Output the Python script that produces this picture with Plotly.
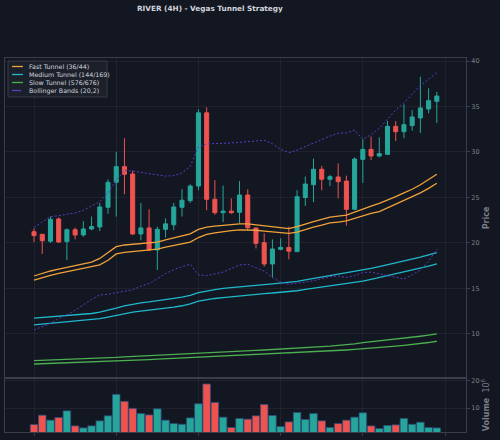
import plotly.graph_objects as go

# ---------------- data ----------------
opens = [21.24, 20.95, 20.2, 22.64, 20.15, 21.46, 20.88, 21.54, 21.76, 23.92,
         26.67, 28.39, 27.58, 20.99, 21.65, 19.23, 21.5, 22.0, 23.92, 24.65,
         26.26, 34.3, 24.8, 23.33, 23.5, 23.37, 25.27, 21.65, 20.04, 17.69,
         19.3, 19.5, 19.05, 25.0, 26.4, 28.1, 27.0, 27.25, 26.8, 23.7,
         29.19, 30.29, 29.56, 29.74, 32.82, 32.23, 32.9, 33.74, 34.73, 35.57]
highs = [21.6, 21.0, 22.9, 22.8, 21.6, 21.7, 22.4, 22.9, 24.4, 27.0,
         30.0, 31.5, 27.95, 24.4, 23.7, 21.8, 22.7, 24.4, 25.9, 26.45,
         34.7, 34.9, 26.9, 26.3, 24.9, 26.8, 25.9, 21.7, 21.06, 20.4,
         20.5, 21.8, 25.8, 27.3, 29.27, 28.46, 27.5, 28.75, 27.4, 29.4,
         31.4, 31.7, 31.6, 33.4, 33.4, 35.24, 34.6, 38.28, 37.0, 36.6]
lows = [20.1, 18.8, 20.0, 20.0, 18.1, 20.4, 20.7, 21.4, 21.3, 23.2,
        22.9, 25.35, 20.9, 20.3, 19.1, 17.03, 20.6, 21.4, 22.9, 24.4,
        25.8, 23.6, 23.1, 22.3, 23.2, 22.2, 21.4, 19.4, 17.4, 16.2,
        19.2, 18.2, 19.0, 24.07, 24.5, 25.8, 26.26, 24.9, 21.9, 23.6,
        26.6, 29.1, 29.4, 29.67, 31.2, 31.5, 32.34, 32.1, 34.25, 33.2]
closes = [20.81, 20.25, 22.6, 20.1, 21.46, 20.88, 21.54, 21.8, 23.96, 26.67,
          28.39, 27.55, 20.99, 21.65, 19.23, 21.5, 22.1, 23.96, 24.7, 26.26,
          34.3, 24.8, 23.33, 23.5, 23.33, 25.27, 21.68, 19.95, 17.69, 19.34,
          19.52, 19.1, 25.09, 26.48, 28.1, 27.0, 27.29, 26.74, 23.7, 29.23,
          30.29, 29.56, 29.82, 32.82, 32.23, 33.0, 33.85, 34.84, 35.64, 36.15]
volumes = [3.96, 7.4, 5.56, 6.54, 9.0, 3.45, 2.7, 3.45, 5.3, 7.16,
           15.06, 12.5, 9.9, 8.0, 7.5, 9.75, 5.56, 4.3, 4.05, 6.4,
           11.6, 18.9, 12.1, 6.67, 2.85, 6.17, 5.93, 7.16, 11.36, 7.28,
           3.2, 4.93, 8.4, 5.8, 8.0, 5.3, 2.85, 4.3, 5.56, 6.67,
           8.27, 3.45, 2.47, 3.6, 3.83, 6.17, 4.05, 4.8, 2.85, 2.7]

fast_a = [16.37, 16.65, 16.92, 17.12, 17.3, 17.5, 17.7, 17.9, 18.3, 18.9,
          19.6, 19.78, 19.86, 19.9, 19.98, 20.1, 20.35, 20.55, 20.75, 21.0,
          21.5, 21.75, 21.85, 21.95, 22.02, 22.1, 22.1, 22.0, 21.9, 21.75,
          21.65, 21.57, 21.8, 22.1, 22.35, 22.6, 22.85, 22.95, 23.05, 23.4,
          23.75, 24.05, 24.35, 24.7, 25.1, 25.5, 25.9, 26.4, 26.95, 27.55]
fast_b = [15.93, 16.2, 16.45, 16.65, 16.85, 17.05, 17.25, 17.45, 17.6, 18.1,
          18.8, 18.97, 19.05, 19.12, 19.2, 19.32, 19.55, 19.75, 19.95, 20.1,
          20.6, 20.95, 21.1, 21.25, 21.35, 21.43, 21.45, 21.4, 21.3, 21.2,
          21.1, 21.06, 21.2, 21.5, 21.75, 21.95, 22.2, 22.3, 22.42, 22.7,
          23.0, 23.25, 23.44, 23.85, 24.3, 24.7, 25.1, 25.5, 26.0, 26.56]
med_a = [11.73, 11.8, 11.87, 11.94, 12.0, 12.07, 12.15, 12.25, 12.4, 12.6,
         12.85, 13.1, 13.3, 13.42, 13.52, 13.62, 13.75, 13.9, 14.05, 14.25,
         14.55, 14.75, 14.88, 15.0, 15.1, 15.18, 15.25, 15.35, 15.42, 15.5,
         15.57, 15.64, 15.78, 15.95, 16.1, 16.25, 16.4, 16.55, 16.7, 16.85,
         17.0, 17.2, 17.4, 17.6, 17.8, 18.0, 18.25, 18.45, 18.7, 18.93]
med_b = [11.0, 11.08, 11.15, 11.22, 11.3, 11.38, 11.46, 11.55, 11.68, 11.85,
         12.05, 12.25, 12.4, 12.5, 12.6, 12.7, 12.82, 12.95, 13.1, 13.3,
         13.6, 13.78, 13.9, 14.0, 14.1, 14.2, 14.28, 14.36, 14.44, 14.5,
         14.56, 14.62, 14.75, 14.9, 15.03, 15.15, 15.28, 15.4, 15.52, 15.65,
         15.8, 16.0, 16.2, 16.4, 16.6, 16.8, 17.0, 17.2, 17.45, 17.69]
slow_a = [7.07, 7.1, 7.13, 7.16, 7.19, 7.22, 7.25, 7.28, 7.32, 7.37,
          7.43, 7.49, 7.54, 7.58, 7.62, 7.66, 7.7, 7.74, 7.78, 7.83,
          7.9, 7.96, 8.0, 8.04, 8.08, 8.12, 8.16, 8.2, 8.24, 8.28,
          8.32, 8.36, 8.42, 8.48, 8.54, 8.6, 8.66, 8.73, 8.8, 8.92,
          9.05, 9.14, 9.24, 9.34, 9.44, 9.54, 9.64, 9.75, 9.87, 10.0]
slow_b = [6.7, 6.73, 6.76, 6.79, 6.82, 6.85, 6.88, 6.91, 6.94, 6.98,
          7.02, 7.07, 7.11, 7.15, 7.19, 7.23, 7.27, 7.31, 7.35, 7.39,
          7.44, 7.49, 7.53, 7.57, 7.61, 7.65, 7.69, 7.73, 7.77, 7.81,
          7.85, 7.89, 7.94, 7.99, 8.04, 8.09, 8.14, 8.19, 8.24, 8.3,
          8.36, 8.43, 8.5, 8.58, 8.66, 8.75, 8.84, 8.94, 9.06, 9.2]
bb_upper = [21.72, 22.3, 22.89, 23.0, 23.15, 23.3, 23.6, 24.1, 24.54, 25.5,
            26.9, 27.95, 27.9, 27.75, 27.6, 27.45, 27.35, 27.4, 27.7, 28.4,
            30.6, 30.9, 30.9, 30.95, 31.0, 31.05, 31.1, 31.2, 31.3, 30.9,
            30.3, 29.92, 30.2, 30.6, 31.0, 31.4, 31.75, 32.05, 32.1, 32.4,
            31.4, 31.9, 32.6, 33.6, 34.6, 35.4, 36.3, 37.3, 38.0, 38.72]
bb_lower = [10.44, 10.8, 11.17, 11.7, 12.1, 12.6, 13.2, 13.8, 14.29, 14.35,
            14.55, 14.7, 14.85, 15.25, 15.55, 16.05, 16.65, 17.05, 17.4, 17.66,
            16.5, 16.4, 16.6, 16.8, 17.2, 17.58, 17.66, 17.3, 16.9, 16.2,
            15.7, 15.46, 15.55, 15.7, 15.85, 16.1, 16.3, 16.37, 16.2, 16.4,
            16.75, 16.8, 16.6, 16.48, 16.2, 16.04, 16.5, 17.03, 18.0, 19.3]

price_ticks = [10, 15, 20, 25, 30, 35, 40]
volume_ticks = [10, 20]
x_ticks = [0, 10, 20, 30, 40, 50]

title_text = "RIVER (4H) - Vegas Tunnel Strategy"
legend_labels = ["Fast Tunnel (36/44)", "Medium Tunnel (144/169)",
                 "Slow Tunnel (576/676)", "Bollinger Bands (20,2)"]

# ---------------- style ----------------
BG = "#131722"
UP = "#26a69a"
DOWN = "#ef5350"
ORANGE = "#f0a23a"
CYAN = "#1fb8cc"
GREEN = "#4caf50"
PURPLE = "#5b3cc4"
FRAME = "#3a3e4a"
GRID = "rgba(255,255,255,0.05)"
TICKC = "#7b7f8a"
TEXTC = "#d1d4dc"
FONT = "DejaVu Sans"

W, H = 500, 440
L, R, T, B = 5, 466, 58, 432
VOL_TOP = 378


def px(x):
    return (x - L) / (R - L)


def py(y):
    return (B - y) / (B - T)


idx = list(range(len(closes)))

fig = go.Figure()
fig.add_trace(go.Candlestick(
    x=idx, open=opens, high=highs, low=lows, close=closes,
    increasing=dict(line=dict(color=UP, width=1), fillcolor=UP),
    decreasing=dict(line=dict(color=DOWN, width=1), fillcolor=DOWN),
    whiskerwidth=0, showlegend=False, hoverinfo="skip",
    xaxis="x", yaxis="y"))

for ys, col in [(slow_a, GREEN), (slow_b, GREEN), (med_a, CYAN), (med_b, CYAN),
                (fast_a, ORANGE), (fast_b, ORANGE)]:
    fig.add_trace(go.Scatter(x=idx, y=ys, mode="lines",
                             line=dict(color=col, width=1.3),
                             showlegend=False, hoverinfo="skip",
                             xaxis="x", yaxis="y"))
for ys in [bb_upper, bb_lower]:
    fig.add_trace(go.Scatter(x=idx, y=ys, mode="lines",
                             line=dict(color=PURPLE, width=1, dash="2px,2px"),
                             showlegend=False, hoverinfo="skip",
                             xaxis="x", yaxis="y"))

vol_colors = [UP if c >= o else DOWN for o, c in zip(opens, closes)]
fig.add_trace(go.Bar(x=idx, y=volumes, marker=dict(color=vol_colors,
                     line=dict(color="#2b4d7a", width=0.8)),
                     width=0.92, showlegend=False, hoverinfo="skip",
                     xaxis="x2", yaxis="y2"))

vol_frac = py(VOL_TOP)
axis_common = dict(showline=True, linecolor=FRAME, linewidth=1, mirror=True,
                   gridcolor=GRID, gridwidth=1, zeroline=False)

fig.update_layout(
    width=W, height=H,
    margin=dict(l=L, r=W - R, t=T, b=H - B),
    paper_bgcolor=BG, plot_bgcolor=BG,
    font=dict(family=FONT, color=TICKC, size=6.5),
    showlegend=False, boxgap=0.3,
    xaxis=dict(domain=[0, 1], anchor="y", range=[-3.53, 52.55],
               tickvals=x_ticks, showticklabels=False, ticks="",
               showgrid=True, rangeslider=dict(visible=False), **axis_common),
    xaxis2=dict(domain=[0, 1], anchor="y2", matches="x", range=[-3.53, 52.55],
                tickvals=x_ticks, showticklabels=False, ticks="outside",
                ticklen=3, tickcolor=FRAME, showgrid=True, **axis_common),
    yaxis=dict(domain=[vol_frac, 1], anchor="x", side="right",
               range=[5.16, 40.33], tickvals=price_ticks, ticks="outside",
               ticklen=3, tickcolor=FRAME, showgrid=True,
               tickfont=dict(size=6.5, color=TICKC),
               title=dict(text="<b>Price</b>", standoff=4,
                          font=dict(size=8, color=TICKC)),
               **axis_common),
    yaxis2=dict(domain=[0, vol_frac], anchor="x2", side="right",
                range=[1.2, 21.1], tickvals=volume_ticks, ticks="outside",
                ticklen=3, tickcolor=FRAME, showgrid=True,
                tickfont=dict(size=6.5, color=TICKC),
                title=dict(text="<b>Volume</b>  10<sup>6</sup>", standoff=4,
                           font=dict(size=8, color=TICKC)),
                **axis_common),
)

annotations = [dict(text="<b>" + title_text + "</b>", xref="paper", yref="paper",
                    x=px(210), y=py(9), xanchor="center", yanchor="middle",
                    showarrow=False, font=dict(size=7.3, color=TEXTC))]
shapes = [dict(type="rect", xref="paper", yref="paper",
               x0=px(8), x1=px(107), y0=py(97), y1=py(61),
               fillcolor="rgba(30,34,45,0.85)", line=dict(color="#363a45", width=1),
               layer="above")]
legend_styles = [(ORANGE, "solid"), (CYAN, "solid"), (GREEN, "solid"), (PURPLE, "dash")]
for k, (lab, (col, dash)) in enumerate(zip(legend_labels, legend_styles)):
    yy = 66.5 + k * 8
    shapes.append(dict(type="line", xref="paper", yref="paper",
                       x0=px(12), x1=px(23), y0=py(yy), y1=py(yy),
                       line=dict(color=col, width=1.3, dash=dash), layer="above"))
    annotations.append(dict(text=lab, xref="paper", yref="paper",
                            x=px(27), y=py(yy), xanchor="left", yanchor="middle",
                            showarrow=False, font=dict(size=6.3, color=TEXTC)))
fig.update_layout(annotations=annotations, shapes=shapes)

fig.write_html("out.html")
